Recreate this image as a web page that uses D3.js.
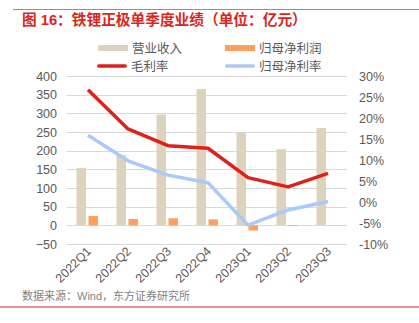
<!DOCTYPE html>
<html><head><meta charset="utf-8">
<script src="https://cdn.jsdelivr.net/npm/d3@7/dist/d3.min.js"></script>
<style>body{margin:0;background:#fff}svg{display:block}text{font-family:"Liberation Sans","Noto Sans CJK SC",sans-serif}</style>
</head><body><svg id="c" width="419" height="323"></svg>
<script>
const categories = ["2022Q1","2022Q2","2022Q3","2022Q4","2023Q1","2023Q2","2023Q3"];
const revenue = [154, 188, 297, 365, 249, 204, 261];
const netProfit = [25, 17, 19, 16, -14, -2, 0.3];
const grossMargin = [26.7, 17.4, 13.4, 12.8, 5.8, 3.6, 6.8];
const netMargin = [15.9, 9.8, 6.4, 4.6, -5.5, -1.9, 0.1];
const leftTicks = [-50, 0, 50, 100, 150, 200, 250, 300, 350, 400];
const rightTicks = [-10, -5, 0, 5, 10, 15, 20, 25, 30];

const svg = d3.select("#c");
const x0 = 67, x1 = 347, yTop = 76, yBot = 244;
const colRev = "#ddd3bd", colNP = "#ffa05f", colGM = "#e0201b", colNM = "#a9c9f8";

// header line and title
svg.append("line").attr("x1",13).attr("x2",419).attr("y1",9.5).attr("y2",9.5).attr("stroke","#e46c6c").attr("stroke-width",1);
svg.append("text").attr("x",22).attr("y",25).attr("fill","#d9261c").attr("font-size",14.7).attr("font-weight","bold")
  .attr("font-family","'Noto Sans CJK SC',sans-serif").text("图 16：铁锂正极单季度业绩（单位：亿元）");
svg.append("line").attr("x1",0).attr("x2",419).attr("y1",307).attr("y2",307).attr("stroke","#e46c6c").attr("stroke-width",1.5);
svg.append("text").attr("x",22).attr("y",300).attr("fill","#7f7f7f").attr("font-size",11)
  .attr("font-family","'Noto Sans CJK SC',sans-serif").text("数据来源：Wind，东方证券研究所");

const x = d3.scaleBand().domain(categories).range([x0, x1]);
const yL = d3.scaleLinear().domain([-50, 400]).range([yBot, yTop]);
const yR = d3.scaleLinear().domain([-10, 30]).range([yBot, yTop]);

// grid
svg.append("g").selectAll("line").data(leftTicks).join("line")
  .attr("x1",x0).attr("x2",x1).attr("y1",d=>Math.round(yL(d))+0.5).attr("y2",d=>Math.round(yL(d))+0.5)
  .attr("stroke","#d9d9d9").attr("stroke-width",1);

// left axis
const la = svg.append("g").attr("transform",`translate(${x0-10},0)`)
  .call(d3.axisLeft(yL).tickValues(leftTicks).tickSize(0).tickPadding(0));
la.select(".domain").remove();
la.selectAll("text").attr("fill","#595959").attr("font-size",12.5);
// right axis
const ra = svg.append("g").attr("transform",`translate(${x1+12},0)`)
  .call(d3.axisRight(yR).tickValues(rightTicks).tickSize(0).tickPadding(0).tickFormat(d=>d+"%"));
ra.select(".domain").remove();
ra.selectAll("text").attr("fill","#595959").attr("font-size",12.5);

// bars
const bw = 9.5;
svg.append("g").selectAll("rect").data(revenue).join("rect")
  .attr("x",(d,i)=>x(categories[i])+x.bandwidth()/2-bw-1)
  .attr("width",bw).attr("y",d=>yL(Math.max(0,d))).attr("height",d=>Math.abs(yL(d)-yL(0)))
  .attr("fill",colRev);
svg.append("g").selectAll("rect").data(netProfit).join("rect")
  .attr("x",(d,i)=>x(categories[i])+x.bandwidth()/2+1.5)
  .attr("width",bw).attr("y",d=>yL(Math.max(0,d))).attr("height",d=>Math.abs(yL(d)-yL(0)))
  .attr("fill",colNP);

// lines
const cx = (i)=>x(categories[i])+x.bandwidth()/2+1;
const lineGen = d3.line().x((d,i)=>cx(i)).y(d=>yR(d));
svg.append("path").datum(netMargin).attr("d",lineGen).attr("fill","none").attr("stroke",colNM).attr("stroke-width",3.5).attr("stroke-linejoin","round");
svg.append("path").datum(grossMargin).attr("d",lineGen).attr("fill","none").attr("stroke",colGM).attr("stroke-width",3.5).attr("stroke-linejoin","round");

// x labels
svg.append("g").selectAll("text").data(categories).join("text")
  .attr("transform",(d,i)=>`translate(${cx(i)+4},${yBot+8}) rotate(-45)`)
  .attr("text-anchor","end").attr("fill","#595959").attr("font-size",12.5).text(d=>d);

// legend
const legend = [
  {name:"营业收入", col:colRev, x:98, y:48, h:6},
  {name:"归母净利润", col:colNP, x:225, y:48, h:6},
  {name:"毛利率", col:colGM, x:97, y:66, h:3.5},
  {name:"归母净利率", col:colNM, x:225, y:66, h:3.5}
];
const lg = svg.append("g");
legend.forEach(l=>{
  lg.append("rect").attr("x",l.x).attr("y",l.y-l.h/2).attr("width",30).attr("height",l.h).attr("fill",l.col).attr("rx",l.h<5?1.75:0);
  lg.append("text").attr("x",l.x+34).attr("y",l.y+4.5).attr("fill","#595959").attr("font-size",12.5)
    .attr("font-family","'Noto Sans CJK SC',sans-serif").text(l.name);
});
</script></body></html>
